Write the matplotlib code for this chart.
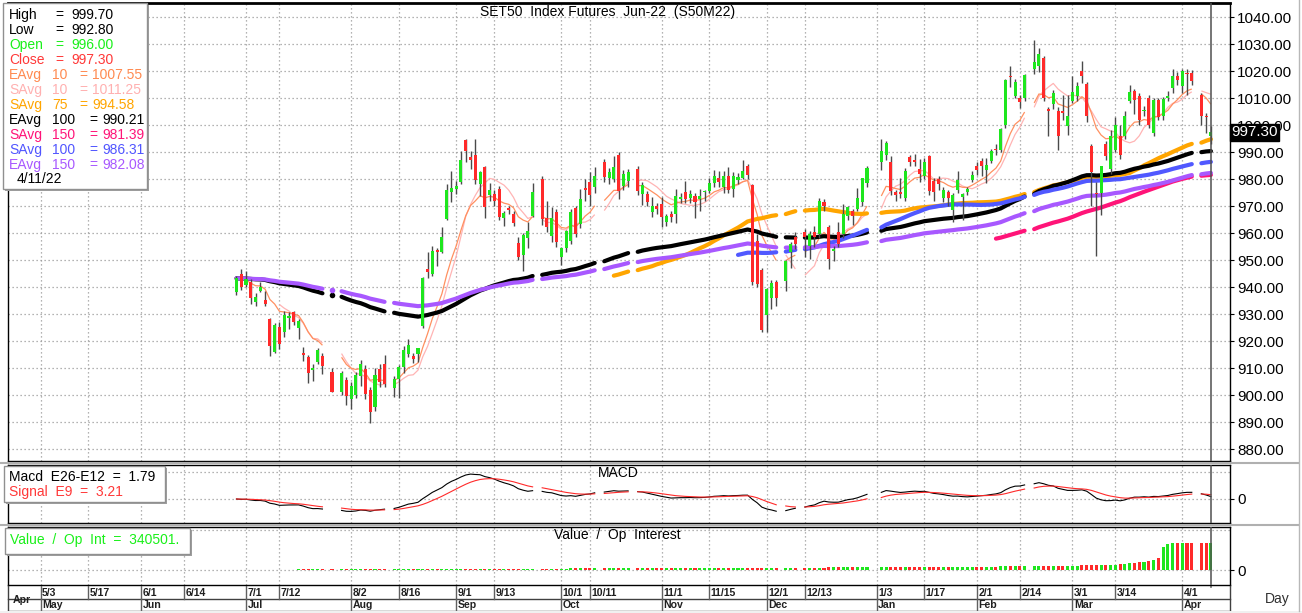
import numpy as np
import pandas as pd
import matplotlib
matplotlib.use('Agg')
import matplotlib.pyplot as plt
from matplotlib.patches import Rectangle
from matplotlib.lines import Line2D
import matplotlib.transforms as mtransforms

plt.rcParams['font.family'] = ['Liberation Sans', 'DejaVu Sans']

# ---------------- data ----------------
title = 'SET50  Index Futures  Jun-22  (S50M22)'
first_day, last_day = '2021-06-29', '2022-04-11'
holidays = ['2021-07-26', '2021-07-28', '2021-08-12', '2021-09-24', '2021-10-13',
            '2021-10-22', '2021-12-06', '2021-12-10', '2021-12-31', '2022-01-03',
            '2022-02-16', '2022-04-06']

open_ = [
    938.0, 944.8,
    940.7, 942.0, 934.3, 938.6, 935.2, 928.1, 915.8, 925.1, 923.2, 928.4, 930.6, 924.7, 915.4, 914.2, 909.4, 912.3, 914.6, 908.4, 901.2, 905.6,
    898.5, 900.0, 907.2, 909.6, 902.0, 895.4, 909.6, 911.5, 902.5, 905.9, 910.2, 915.2, 914.4, 915.2, 925.4, 946.5, 944.8, 953.7, 953.1, 965.2, 975.1,
    976.3, 979.0, 994.3, 988.0, 989.0, 978.1, 984.3, 974.1, 974.4, 976.3, 965.4, 969.1, 967.0, 956.3, 951.9, 958.0, 966.4, 980.0, 965.4, 958.8, 967.7,
    951.2, 954.3, 957.2, 969.1, 963.3, 976.5, 978.8, 976.9, 986.2, 980.2, 980.0, 988.9, 977.5, 979.4, 983.7, 974.4, 974.4, 967.9, 970.1,
    970.7, 964.2, 967.0, 967.0, 972.6, 975.3, 972.8, 973.8, 972.6, 975.1, 975.7, 978.5, 980.2, 976.9, 981.2, 976.3, 979.6, 980.4, 984.8, 977.8, 957.2, 946.3,
    929.6, 935.8, 941.7, 942.1, 953.1, 958.4, 960.2, 955.3, 960.2, 959.6, 971.4, 962.1, 953.5, 960.2, 959.6, 966.4, 968.3, 968.9, 971.6, 978.5,
    986.4, 988.9, 986.4, 975.3, 975.3, 972.8, 988.0, 987.2, 983.7, 981.2, 988.4, 979.4, 980.0, 972.8, 975.3, 968.5, 975.8, 973.5, 975.1, 979.8,
    984.9, 986.5, 983.5, 986.5, 991.3, 990.9, 1000.1, 1018.3, 1010.9, 1010.0, 1010.0, 1020.7, 1022.0, 1024.8, 1005.9, 1007.9, 1005.1, 1005.1, 999.8,
    1008.8, 1010.9, 1019.9, 1015.2, 992.3, 974.8, 974.8, 993.1, 983.7, 990.9, 996.0, 996.0, 1009.0, 1012.5, 1010.9, 1005.1, 1010.0, 997.0, 1009.1, 1003.5, 1010.0, 1013.7, 1018.0,
    1014.6, 1019.3, 1019.3, 1011.0, 1003.2, 996.0]
high = [
    944.0, 946.7,
    946.0, 943.0, 937.8, 942.0, 938.6, 928.4, 926.5, 926.9, 931.2, 930.6, 931.2, 928.1, 917.7, 915.0, 911.5, 917.5, 915.5, 909.9, 909.0, 906.5,
    904.7, 908.4, 913.1, 911.0, 903.0, 909.9, 911.5, 914.8, 907.0, 911.0, 918.3, 920.7, 915.5, 917.5, 943.6, 952.8, 955.1, 954.5, 962.1, 978.1, 983.1,
    979.4, 990.5, 995.0, 990.5, 995.0, 983.0, 985.0, 978.4, 976.0, 977.5, 968.0, 970.0, 968.0, 958.4, 960.0, 964.0, 978.4, 981.0, 972.0, 969.8, 969.0,
    955.0, 961.0, 969.0, 970.0, 976.3, 980.0, 982.5, 984.6, 987.4, 984.0, 988.6, 989.9, 983.5, 983.7, 985.0, 978.8, 975.5, 973.2, 971.0,
    973.2, 967.0, 968.0, 976.3, 975.0, 979.4, 976.0, 975.0, 976.3, 976.0, 980.2, 983.3, 983.1, 983.0, 984.6, 982.5, 982.4, 987.0, 985.5, 978.1, 959.6, 947.0,
    939.5, 942.5, 942.6, 950.0, 956.5, 960.2, 961.5, 960.9, 962.7, 972.8, 972.6, 963.0, 955.3, 964.0, 970.7, 970.1, 968.9, 976.5, 980.5, 985.0,
    995.0, 994.0, 988.4, 976.0, 980.2, 984.0, 989.0, 989.2, 987.4, 987.7, 989.0, 980.5, 981.0, 977.0, 976.0, 975.0, 982.8, 975.0, 977.0, 982.8,
    986.2, 987.8, 987.8, 991.0, 993.0, 999.0, 1017.0, 1021.7, 1017.0, 1011.0, 1019.0, 1031.6, 1028.5, 1025.5, 1006.5, 1013.0, 1006.5, 1011.2, 1011.2,
    1018.0, 1016.0, 1023.6, 1016.0, 993.0, 979.0, 985.0, 994.0, 998.0, 1003.0, 1000.0, 1005.1, 1014.9, 1013.5, 1012.0, 1007.0, 1011.0, 1010.0, 1010.0, 1010.5, 1012.5, 1020.7, 1019.5,
    1020.7, 1020.7, 1020.5, 1012.0, 1004.4, 999.7]
low = [
    937.0, 939.0,
    940.0, 933.7, 933.0, 938.0, 933.0, 914.3, 915.5, 917.0, 921.4, 924.4, 926.0, 920.7, 912.7, 904.3, 905.3, 911.5, 907.8, 901.0, 900.0, 896.3,
    895.0, 899.0, 903.5, 898.5, 889.6, 894.0, 903.0, 903.0, 899.1, 898.8, 908.0, 914.0, 912.0, 912.3, 925.0, 943.2, 944.0, 947.9, 952.5, 965.0, 971.4,
    974.4, 978.1, 986.2, 983.7, 978.0, 973.8, 965.4, 972.0, 970.0, 965.0, 962.7, 967.0, 962.7, 950.0, 946.1, 954.3, 966.0, 963.0, 960.2, 956.8, 955.0,
    948.1, 953.0, 956.0, 958.5, 962.0, 972.0, 970.1, 975.0, 979.0, 978.0, 979.0, 972.6, 976.0, 976.9, 974.0, 970.4, 970.0, 966.0, 967.0,
    962.1, 962.7, 964.0, 963.7, 971.0, 971.0, 971.0, 965.4, 968.0, 972.0, 975.0, 977.0, 977.0, 975.0, 975.0, 973.4, 978.0, 979.9, 980.0, 940.7, 940.0, 923.2,
    923.5, 932.0, 933.0, 938.6, 947.0, 954.0, 951.0, 950.4, 955.0, 958.0, 968.0, 946.7, 949.8, 955.0, 958.0, 965.0, 963.0, 968.0, 970.0, 977.0,
    983.5, 987.0, 974.0, 972.0, 973.0, 972.0, 985.0, 985.0, 978.8, 980.0, 974.0, 972.0, 976.0, 971.4, 970.0, 964.0, 975.0, 965.0, 974.0, 979.0,
    981.6, 981.0, 978.5, 986.0, 989.0, 990.0, 999.0, 1014.0, 1010.0, 1006.3, 1009.0, 1019.0, 1019.5, 1009.0, 995.8, 1006.0, 990.9, 1002.0, 996.4,
    1008.0, 1009.0, 1015.6, 1001.0, 969.9, 951.6, 966.8, 987.0, 982.0, 990.0, 987.5, 995.0, 1008.0, 1004.0, 1000.0, 1003.5, 999.0, 996.0, 1002.0, 1002.0, 1009.0, 1012.0, 1015.0,
    1012.0, 1011.2, 1015.0, 1000.1, 997.0, 992.8]
close = [
    943.2, 939.9,
    943.0, 935.8, 936.2, 940.1, 933.7, 918.3, 926.0, 918.9, 929.6, 929.3, 927.2, 927.5, 914.9, 908.1, 909.9, 916.7, 910.6, 901.2, 908.0, 899.5,
    903.5, 907.4, 911.5, 900.2, 893.6, 907.4, 904.7, 904.1, 905.9, 910.2, 916.8, 918.5, 913.5, 917.3, 943.2, 945.6, 953.5, 952.8, 958.6, 975.8, 976.7,
    977.5, 987.2, 990.5, 987.2, 979.5, 982.5, 969.5, 975.9, 972.0, 965.8, 967.3, 968.6, 963.7, 951.0, 959.3, 960.9, 975.3, 965.2, 962.1, 965.6, 956.8,
    954.3, 960.6, 967.7, 959.6, 972.6, 975.8, 974.1, 981.0, 980.6, 982.5, 984.3, 975.7, 982.0, 982.5, 975.7, 977.8, 971.6, 969.9, 968.9,
    965.8, 966.4, 965.8, 973.8, 973.5, 972.6, 974.4, 971.4, 973.8, 975.3, 978.4, 981.2, 978.8, 981.2, 976.0, 981.2, 980.9, 982.9, 981.5, 942.0, 941.0, 924.2,
    939.3, 941.5, 935.9, 949.5, 955.9, 955.9, 958.4, 959.6, 958.4, 972.0, 969.9, 950.4, 954.1, 955.9, 967.0, 969.5, 966.2, 972.8, 980.2, 984.0,
    990.5, 993.3, 975.7, 974.1, 974.6, 983.1, 986.2, 986.4, 981.9, 986.2, 975.7, 975.1, 978.1, 976.0, 972.8, 974.0, 979.8, 974.5, 976.3, 981.6,
    983.5, 984.9, 985.3, 990.2, 990.7, 998.5, 1016.8, 1017.8, 1015.8, 1008.4, 1018.6, 1023.3, 1026.4, 1010.0, 1005.1, 1011.9, 996.0, 1004.4, 1003.5,
    1012.1, 1014.6, 1018.0, 1003.2, 982.5, 974.4, 984.7, 988.6, 996.0, 1000.1, 989.0, 1003.5, 1012.1, 1009.4, 1002.0, 1005.7, 1000.1, 1009.4, 1003.0, 1009.6, 1010.9, 1018.0, 1016.8,
    1019.9, 1018.8, 1016.4, 1003.5, 1003.0, 997.3]
open_interest = [
    1500, 2500,
    3000, 3500, 4000, 4200, 4500, 5000, 5200, 5500, 5800, 6000, 6200, 6500, 6800, 7000, 7200, 7500, 7800, 8000, 8200, 8500,
    8800, 9000, 9200, 9500, 9800, 10000, 10200, 10500, 10800, 11000, 11200, 11500, 11800, 12000, 12300, 12500, 12800, 13000, 13200, 13500, 13800,
    14000, 14200, 14500, 14700, 15000, 15200, 15400, 15600, 15800, 16000, 16200, 16400, 16600, 16800, 17000, 17200, 17400, 17600, 17800, 18000, 18200,
    18400, 18600, 18800, 19000, 19200, 19400, 19600, 19800, 20000, 20200, 20400, 20600, 20800, 21000, 21200, 21400, 21600, 21800, 22000,
    22200, 22400, 22600, 22800, 23000, 23200, 23400, 23600, 23800, 24000, 24200, 24400, 24600, 24800, 25000, 25200, 25400, 25600, 25800, 26500, 27000, 27500,
    28000, 28300, 28600, 28900, 29200, 29500, 29800, 30100, 30400, 30700, 31000, 31300, 31600, 31900, 32200, 32500, 32800, 33100, 33400, 33700,
    34000, 34300, 34600, 34900, 35200, 35500, 35800, 36100, 36400, 36700, 37000, 37300, 37600, 37900, 38200, 38500, 38800, 39100, 39400, 39700,
    40000, 40800, 41600, 42400, 43200, 44000, 44800, 45600, 46400, 47200, 48000, 48800, 49600, 50400, 51200, 52000, 52800, 53600, 54400,
    55000, 56000, 57000, 58000, 59000, 60000, 61000, 62000, 63000, 68000, 74000, 80000, 86000, 92000, 98000, 104000, 112000, 125000, 150000, 290000, 320000, 335000, 338000,
    339000, 340000, 339500, 340200, 340400, 340501]

legend_rows = [  # (name, period, value text, colour)
    ('High', '', '999.70', '#000000'),
    ('Low', '', '992.80', '#000000'),
    ('Open', '', '996.00', '#19F019'),
    ('Close', '', '997.30', '#FF3838'),
    ('EAvg', '10', '1007.55', '#FF8A50'),
    ('SAvg', '10', '1011.25', '#FFB0B0'),
    ('SAvg', '75', '994.58', '#FFA500'),
    ('EAvg', '100', '990.21', '#000000'),
    ('SAvg', '150', '981.39', '#FF1478'),
    ('SAvg', '100', '986.31', '#5055FF'),
    ('EAvg', '150', '982.08', '#A858FF'),
]
legend_date = '4/11/22'
macd_text = 'Macd  E26-E12  =  1.79'
signal_text = 'Signal  E9  =  3.21'
oi_text = 'Value  /  Op  Int  =  340501.'

day_tick_dates = ['2021-05-03', '2021-05-17', '2021-06-01', '2021-06-14', '2021-07-01', '2021-07-12',
                  '2021-08-02', '2021-08-16', '2021-09-01', '2021-09-13', '2021-10-01', '2021-10-11',
                  '2021-11-01', '2021-11-15', '2021-12-01', '2021-12-13', '2022-01-03', '2022-01-17',
                  '2022-02-01', '2022-02-14', '2022-03-01', '2022-03-14', '2022-04-01']
day_tick_labels = ['5/3', '5/17', '6/1', '6/14', '7/1', '7/12', '8/2', '8/16', '9/1', '9/13', '10/1', '10/11',
                   '11/1', '11/15', '12/1', '12/13', '1/3', '1/17', '2/1', '2/14', '3/1', '3/14', '4/1']
month_tick_dates = ['2021-05-03', '2021-06-01', '2021-07-01', '2021-08-02', '2021-09-01', '2021-10-01',
                    '2021-11-01', '2021-12-01', '2022-01-03', '2022-02-01', '2022-03-01', '2022-04-01']
month_tick_labels = ['May', 'Jun', 'Jul', 'Aug', 'Sep', 'Oct', 'Nov', 'Dec', 'Jan', 'Feb', 'Mar', 'Apr']
price_ticks = list(range(880, 1041, 10))

# ---------------- derived series ----------------
slots = pd.bdate_range(first_day, last_day)
tdays = slots[~slots.isin(pd.to_datetime(holidays))]
df = pd.DataFrame({'o': open_, 'h': high, 'l': low, 'c': close, 'oi': open_interest}, index=tdays)
c = df['c']
ma = {
    'EAvg10': c.ewm(span=10, adjust=False).mean(),
    'SAvg10': c.rolling(10).mean(),
    'SAvg75': c.rolling(75).mean(),
    'EAvg100': c.ewm(span=100, adjust=False).mean(),
    'SAvg150': c.rolling(150).mean(),
    'SAvg100': c.rolling(100).mean(),
    'EAvg150': c.ewm(span=150, adjust=False).mean(),
}
macd = c.ewm(span=12, adjust=False).mean() - c.ewm(span=26, adjust=False).mean()
signal = macd.ewm(span=9, adjust=False).mean()

axis_days = pd.bdate_range('2021-04-19', '2022-04-22')
def pos(d):
    return axis_days.get_loc(pd.Timestamp(d))
xs_slots = axis_days.get_indexer(slots)
xt = axis_days.get_indexer(tdays)
xlim = (pos('2021-04-22') + 0.17, pos('2022-04-15'))

GREEN, RED, WICK = '#1EE61E', '#FF2A2A', '#4A4A4A'
up = (df['c'] >= df['o']).values
bar_cols = np.where(up, GREEN, RED)

# ---------------- figure ----------------
W, H = 1302, 613
fig = plt.figure(figsize=(W / 100, H / 100), dpi=100, facecolor='white')
def rect(x0, y0, x1, y1):
    return [x0 / W, 1 - y1 / H, (x1 - x0) / W, (y1 - y0) / H]

ax = fig.add_axes(rect(8, 3, 1230, 461))
axm = fig.add_axes(rect(8, 465, 1230, 523))
axv = fig.add_axes(rect(8, 527, 1230, 585))
axd = fig.add_axes(rect(8, 586, 1230, 611))

grid_kw = dict(color='#9a9a9a', lw=0.9, linestyle=(0, (1, 2.2)))
day_pos = [pos(d) for d in day_tick_dates]
last_x = pos(last_day)

for a in (ax, axm, axv):
    a.set_xlim(*xlim)
    a.set_facecolor('white')
    for p in day_pos:
        a.axvline(p, zorder=0, **grid_kw)
    a.axvline(last_x, color='#505050', lw=1.1, zorder=6)
    for s in a.spines.values():
        s.set_color('#000000')
        s.set_linewidth(1)
    a.set_xticks([])
    a.yaxis.tick_right()
    a.tick_params(axis='y', which='both', direction='out', length=3, pad=2,
                  labelsize=11, colors='#000000')
ax.spines['top'].set_linewidth(2)

# ---- main price panel ----
ax.set_ylim(875.56, 1045.19)
ax.set_yticks(price_ticks)
ax.set_yticklabels([f'{v:.2f}' for v in price_ticks])
for v in price_ticks:
    ax.axhline(v, zorder=0, **grid_kw)

def plot_slot(a, series, **kw):
    s = series.reindex(slots)
    a.plot(xs_slots, s.values, **kw)

def plot_thick(a, series, color):
    s = series.reindex(slots)
    a.plot(xs_slots, s.values, color=color, lw=3.0, zorder=2,
           solid_capstyle='round', solid_joinstyle='round')
    valid = s.notna()
    lone = valid & ~valid.shift(1, fill_value=False) & ~valid.shift(-1, fill_value=False)
    if lone.any():
        a.plot(xs_slots[lone.values], s[lone].values, 'o', color=color, ms=4.0, mew=0, zorder=2)

thin = dict(lw=0.9, zorder=2, solid_capstyle='butt')
plot_slot(ax, ma['SAvg10'], color='#FFB4B4', **thin)
plot_slot(ax, ma['EAvg10'], color='#FF9060', **thin)
plot_thick(ax, ma['SAvg75'], '#FFA500')
plot_thick(ax, ma['EAvg100'], '#000000')
plot_thick(ax, ma['SAvg150'], '#FF1478')
plot_thick(ax, ma['SAvg100'], '#5058FF')
plot_thick(ax, ma['EAvg150'], '#A858FF')

ax.vlines(xt, df['l'], df['h'], color=WICK, lw=1.0, zorder=3)
body_lo = np.minimum(df['o'], df['c'])
body_h = np.maximum(np.abs(df['c'] - df['o']), 0.45)
ax.bar(xt, body_h, bottom=body_lo, width=0.64, color=bar_cols, lw=0, zorder=4)

# last price marker
lp = close[-1]
ax.text(1.0008, lp, f'{lp:.2f}', transform=mtransforms.blended_transform_factory(ax.transAxes, ax.transData),
        ha='left', va='center', fontsize=11, color='white', zorder=10, clip_on=False,
        bbox=dict(boxstyle='square,pad=0.08', fc='black', ec='black'))

# ---- MACD panel ----
axm.set_ylim(-18, 25.5)
axm.set_yticks([0])
axm.set_yticklabels(['0'])
axm.axhline(0, zorder=0, **grid_kw)
axm.axhline(20, zorder=0, **grid_kw)
plot_slot(axm, macd, color='#000000', lw=0.8, zorder=3)
plot_slot(axm, signal, color='#FF2A2A', lw=0.8, zorder=3)

# ---- open interest panel ----
axv.set_ylim(-187500, 537500)
axv.set_yticks([0])
axv.set_yticklabels(['0'])
axv.axhline(0, zorder=0, **grid_kw)
axv.axhline(500000, zorder=0, **grid_kw)
axv.bar(xt, df['oi'], width=0.64, color=bar_cols, lw=0, zorder=3)

# ---- date axis ----
axd.set_xlim(*xlim)
axd.set_ylim(0, 2)
axd.axis('off')
for yy in (0, 1):
    axd.plot(xlim, [yy, yy], color='#404040', lw=1, clip_on=False)
axd.plot([xlim[0], xlim[0]], [0, 2], color='#404040', lw=1, clip_on=False)
axd.plot([xlim[1], xlim[1]], [0, 2], color='#404040', lw=1, clip_on=False)
axd.plot([last_x, last_x], [1.9, 2], color='#505050', lw=1.1)
for d, lab in zip(day_tick_dates, day_tick_labels):
    p = pos(d)
    axd.plot([p, p], [1, 2], color='#606060', lw=1)
    axd.text(p + 0.3, 1.45, lab, fontsize=7.6, fontweight='bold', ha='left', va='center', color='#202020')
for d, lab in zip(month_tick_dates, month_tick_labels):
    p = pos(d)
    axd.plot([p, p], [0, 1], color='#606060', lw=1)
    axd.text(p + 0.3, 0.45, lab, fontsize=7.6, fontweight='bold', ha='left', va='center', color='#202020')
axd.text(0.004, 0.45, 'Apr', transform=axd.transAxes, fontsize=7.6, fontweight='bold',
         ha='left', va='center', color='#202020')

# ---------------- figure level decorations ----------------
def fx(x):
    return x / W
def fy(y):
    return 1 - y / H

for yy in (463, 525):
    fig.add_artist(Line2D([0, fx(1298)], [fy(yy), fy(yy)], color='#B0B0B0', lw=1.5))
fig.add_artist(Line2D([fx(1298.5), fx(1298.5)], [fy(0), fy(611)], color='#B8B8B8', lw=1))
fig.add_artist(Rectangle((0, 0), 1, fy(611), transform=fig.transFigure, fc='#F0F0F0', ec='none'))

def box(x0, y0, x1, y1):
    fig.add_artist(Rectangle((fx(x0 + 2), fy(y1 + 2)), (x1 - x0) / W, (y1 - y0) / H,
                             transform=fig.transFigure, fc='#A0A0A0', ec='none', zorder=20))
    fig.add_artist(Rectangle((fx(x0), fy(y1)), (x1 - x0) / W, (y1 - y0) / H,
                             transform=fig.transFigure, fc='white', ec='#909090', lw=1, zorder=21))

def ftxt(x, y, s, color='#000000', **kw):
    fig.text(fx(x), fy(y), s, color=color, fontsize=10, ha='left', va='center', zorder=22, **kw)

box(3, 3, 147, 189)
for i, (name, per, val, col) in enumerate(legend_rows):
    y = 15 + 15 * i
    ftxt(9, y, name, col)
    if per:
        ftxt(52, y, per, col)
        eq_x = 79 if len(per) == 2 else 89
        ftxt(eq_x, y, '=', col)
        ftxt(eq_x + 13, y, val, col)
    else:
        ftxt(55, y, '=', col)
        ftxt(71, y, val, col)
ftxt(17, 179, legend_date)

box(4, 466, 165, 502)
ftxt(9, 477, macd_text)
ftxt(9, 492, signal_text, '#FF3838')

box(5, 528, 190, 554)
ftxt(10, 540, oi_text, '#19F019')

fig.text(fx(608), fy(12), title, fontsize=10, ha='center', va='center')
fig.text(fx(618), fy(473), 'MACD', fontsize=10, ha='center', va='center')
fig.text(fx(617), fy(535), 'Value  /  Op  Interest', fontsize=10, ha='center', va='center')
fig.text(fx(1277), fy(599), 'Day', fontsize=10, ha='center', va='center', color='#303030')

fig.savefig('out.png', dpi=100, facecolor='white')
